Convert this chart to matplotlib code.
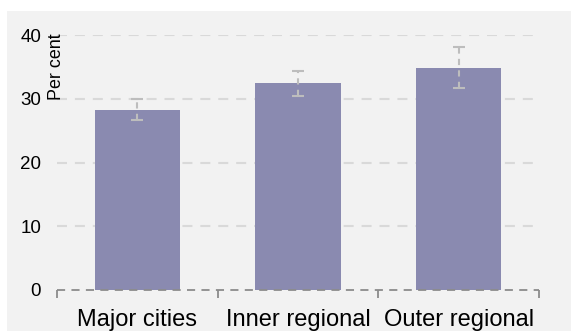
import numpy as np
import matplotlib.pyplot as plt
from matplotlib.patches import Rectangle

plt.rcParams['font.family'] = ['Liberation Sans', 'DejaVu Sans']

# share of people, per cent, by remoteness area
categories = ['Major cities', 'Inner regional', 'Outer regional']
values = [28.3, 32.4, 34.9]
ci_low = [26.7, 30.5, 31.7]
ci_high = [30.0, 34.4, 38.1]
yticks = [0, 10, 20, 30, 40]

bg = '#f2f2f2'
bar_col = '#8a8ab0'
grid_col = '#d9d9d9'
err_col = '#bdbdbd'

fig = plt.figure(figsize=(5.71, 3.31), dpi=100)
fig.patch.set_facecolor('white')
# grey panel behind the chart
fig.add_artist(Rectangle((7 / 571, 0), 1, 1 - 11 / 331, transform=fig.transFigure,
                         facecolor=bg, edgecolor='none', zorder=-10))

ax = fig.add_axes([57 / 571, 1 - 290 / 331, 482 / 571, 255 / 331])
ax.set_facecolor(bg)

x = np.arange(len(categories))
ax.bar(x, values, width=0.53, color=bar_col, zorder=2)

vals = np.array(values)
yerr = [vals - np.array(ci_low), np.array(ci_high) - vals]
eb = ax.errorbar(x, values, yerr=yerr, fmt='none', ecolor=err_col, elinewidth=1.5,
                 capsize=4, capthick=1.5, zorder=3)
eb[2][0].set_linestyle((0, (3, 2.5)))

ax.set_xlim(-0.5, 2.5)
ax.set_ylim(0, 40)

# dashed gridlines
for y in yticks[1:]:
    ax.axhline(y, color=grid_col, lw=1.5, dashes=(4.8, 3.8), zorder=1)
ax.axhline(0, color='#8c8c8c', lw=1.3, dashes=(4.5, 3.5), zorder=4, clip_on=False)

for s in ax.spines.values():
    s.set_visible(False)

ax.set_yticks(yticks)
ax.set_yticklabels([str(v) for v in yticks], fontsize=13.5)
ax.tick_params(axis='y', length=0, pad=11.5, colors='black')

# category labels centred on bars, ticks at category boundaries
ax.set_xticks([-0.5, 0.5, 1.5, 2.5])
ax.set_xticklabels([])
ax.tick_params(axis='x', length=6, width=1.3, color='#8c8c8c', direction='out')
for xi, c in zip(x, categories):
    ax.text(xi, -0.141, c, transform=ax.get_xaxis_transform(), ha='center',
            va='baseline', fontsize=17)

ax.text(-0.002, 1.008, 'Per cent', transform=ax.transAxes, rotation=90, ha='center',
        va='top', fontsize=12.9)

fig.savefig('out.png', dpi=100, facecolor=fig.get_facecolor())
